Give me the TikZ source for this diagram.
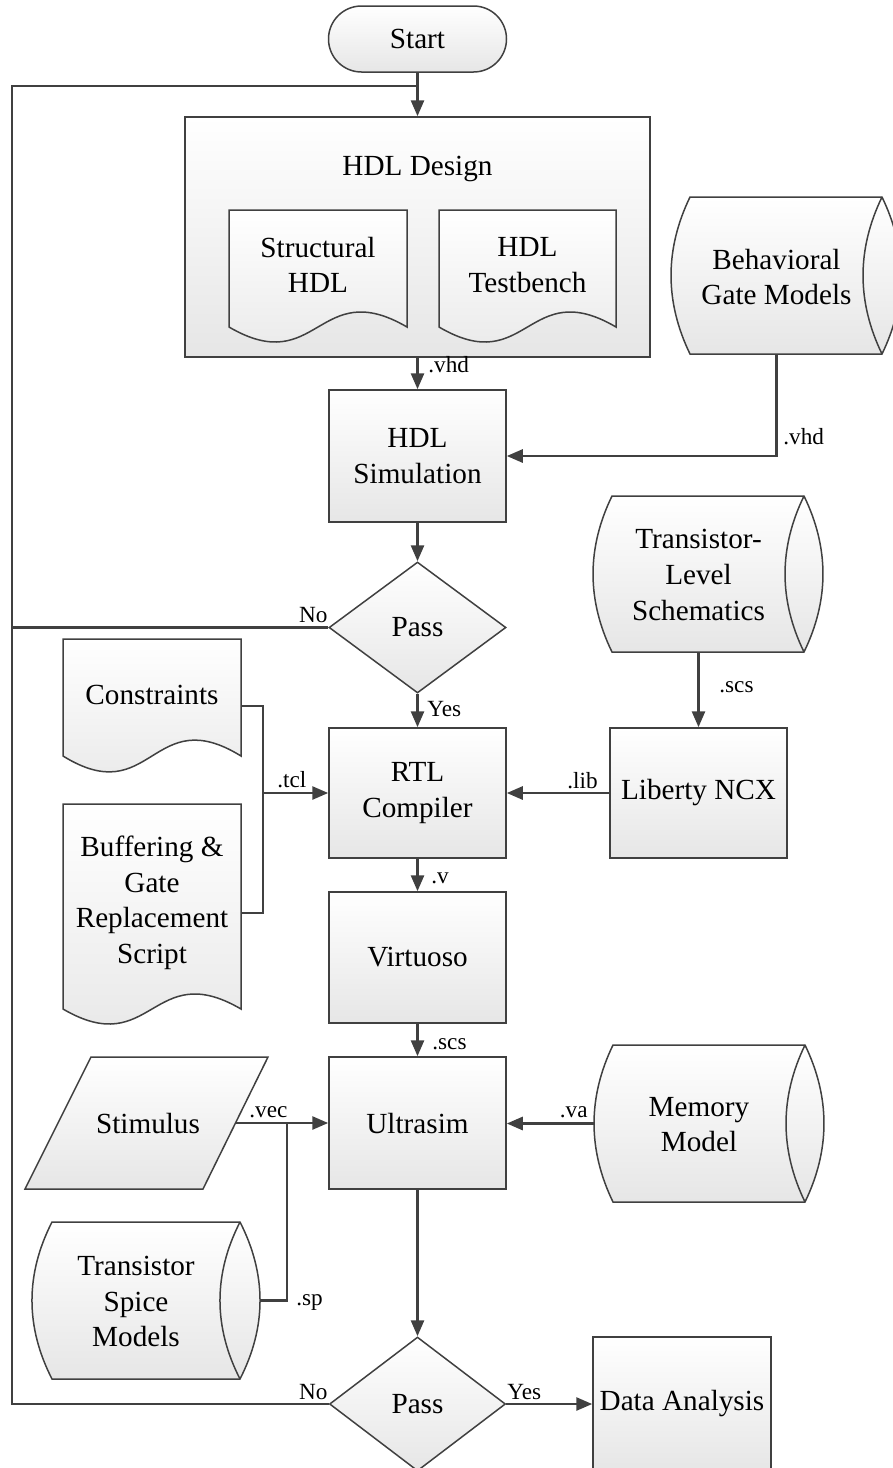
\documentclass[tikz,border=0pt]{standalone}
\usepackage{fontspec}
\setmainfont{Liberation Serif}
\usetikzlibrary{shapes.geometric,arrows.meta,calc}
\definecolor{ln}{HTML}{404040}
\definecolor{shd}{HTML}{E6E6E6}
\newcommand\fmain{\fontsize{14.6}{17.8}\selectfont}
\newcommand\flab{\fontsize{11.6}{13}\selectfont}
\begin{document}
\begin{tikzpicture}[x=0.5pt,y=-0.5pt,
  shp/.style={draw=ln, line width=0.75pt, top color=white, bottom color=shd},
  boxn/.style={shp, rectangle, inner sep=0pt, align=center, font=\fmain},
  dia/.style={shp, diamond, inner sep=0pt, font=\fmain, minimum width=88.5pt, minimum height=65.5pt},
  txt/.style={align=center, font=\fmain, inner sep=0pt},
  lab/.style={font=\flab, inner sep=0pt},
  conn/.style={draw=ln, line width=1.35pt},
  arr/.style={conn, -{Triangle[length=8pt,width=6.5pt]}},
  thin/.style={draw=ln, line width=0.75pt}
]
\useasboundingbox (0,0) rectangle (893,1468);

% ---- main column boxes
\node[boxn, rounded corners=16.5pt, minimum width=89pt, minimum height=33pt] (start) at (417.5,39) {Start};
\node[boxn, minimum width=232.5pt, minimum height=120pt] (hdl) at (417.5,237) {};
\node[txt] (hdltitle) at (417.5,169) {HDL Design};
\node[boxn, minimum width=88.5pt, minimum height=66pt] (sim) at (417.5,456) {HDL\\Simulation};
\node[dia] (pass1) at (417.5,627.5) {Pass};
\node[boxn, minimum width=88.5pt, minimum height=65pt] (rtl) at (417.5,793) {RTL\\Compiler};
\node[boxn, minimum width=88.5pt, minimum height=65pt] (liberty) at (698.5,793) {Liberty NCX};
\node[boxn, minimum width=88.5pt, minimum height=65.5pt] (virt) at (417.5,957.5) {Virtuoso};
\node[boxn, minimum width=88.5pt, minimum height=66pt] (ultra) at (417.5,1123) {Ultrasim};
\node[dia, minimum width=88pt, minimum height=67pt] (pass2) at (417.5,1404) {Pass};
\node[boxn, minimum width=89pt, minimum height=67pt] (data) at (682,1404) {Data Analysis};

% ---- documents inside HDL Design
\draw[shp] (229,210) -- (407,210) -- (407,327) .. controls (318,275) and (318,379) .. (229,327) -- cycle;
\node[txt] (struct) at (318,265) {Structural\\HDL};
\draw[shp] (439,210) -- (616,210) -- (616,327) .. controls (527.5,275) and (527.5,379) .. (439,327) -- cycle;
\node[txt] (tb) at (527.5,265) {HDL\\Testbench};

% ---- documents left
\draw[shp] (63,639) -- (241,639) -- (241,756) .. controls (152,701) and (152,811) .. (63,756) -- cycle;
\node[txt] (cons) at (152,695) {Constraints};
\draw[shp] (63,804) -- (241,804) -- (241,1009) .. controls (152,957) and (152,1061) .. (63,1009) -- cycle;
\node[txt] (buf) at (152,903) {Buffering \&\\Gate\\Replacement\\Script};

% ---- cylinders (stored data shapes)
\draw[shp] (690,197) -- (882,197) .. controls (907.3,249.3) and (907.3,301.7) .. (882,354)
  -- (690,354) .. controls (664.7,301.7) and (664.7,249.3) .. (690,197) -- cycle;
\draw[thin] (882,197) .. controls (856.7,249.3) and (856.7,301.7) .. (882,354);
\node[txt] (behav) at (776.5,277) {Behavioral\\Gate Models};

\draw[shp] (612,496) -- (804,496) .. controls (829.3,548) and (829.3,600) .. (804,652)
  -- (612,652) .. controls (586.7,600) and (586.7,548) .. (612,496) -- cycle;
\draw[thin] (804,496) .. controls (778.7,548) and (778.7,600) .. (804,652);
\node[txt] (tls) at (698.5,575) {Transistor-\\Level\\Schematics};

\draw[shp] (52,1222) -- (240,1222) .. controls (266.7,1274.3) and (266.7,1326.7) .. (240,1379)
  -- (52,1379) .. controls (25.3,1326.7) and (25.3,1274.3) .. (52,1222) -- cycle;
\draw[thin] (240,1222) .. controls (213.3,1274.3) and (213.3,1326.7) .. (240,1379);
\node[txt] (spice) at (136,1301.5) {Transistor\\Spice\\Models};

\draw[shp] (613,1045) -- (805,1045) .. controls (830.3,1097.3) and (830.3,1149.7) .. (805,1202)
  -- (613,1202) .. controls (587.7,1149.7) and (587.7,1097.3) .. (613,1045) -- cycle;
\draw[thin] (805,1045) .. controls (779.7,1097.3) and (779.7,1149.7) .. (805,1202);
\node[txt] (mem) at (699,1124.5) {Memory\\Model};

% ---- parallelogram
\draw[shp] (91,1057) -- (268,1057) -- (203,1189) -- (25,1189) -- cycle;
\node[txt] (stim) at (148,1123) {Stimulus};

% ---- connection points
\coordinate (fbtop) at (12,86);
\coordinate (fbjoin) at (417.5,86);
\coordinate (behavS) at (776.5,354);
\coordinate (tlsS) at (698.5,652);
\coordinate (consE) at (241,706);
\coordinate (bufE) at (241,913);
\coordinate (tclJ) at (263,793);
\coordinate (stimE) at (235.5,1123);
\coordinate (vecJ) at (287,1123);
\coordinate (spiceE) at (260,1300.5);
\coordinate (memW) at (594,1123.5);

% ---- connectors
\draw[arr] (start.south) -- (hdl.north);
\draw[conn] (pass2.west) -| (fbtop) -- (fbjoin);
\draw[conn] (pass1.west) -- (pass1.west -| fbtop);
\draw[arr] (hdl.south) -- (sim.north);
\draw[arr] (behavS) |- (sim.east);
\draw[arr] (sim.south) -- (pass1.north);
\draw[arr] (pass1.south) -- (rtl.north);
\draw[arr] (tlsS) -- (tlsS |- liberty.north);
\draw[arr] (liberty.west) -- (rtl.east);
\draw[conn] (consE) -| (tclJ) |- (bufE);
\draw[arr] (tclJ) -- (rtl.west);
\draw[arr] (rtl.south) -- (virt.north);
\draw[arr] (virt.south) -- (ultra.north);
\draw[arr] (stimE) -- (ultra.west);
\draw[conn] (spiceE) -| (vecJ);
\draw[arr] (memW) -- (memW -| ultra.east);
\draw[arr] (ultra.south) -- (pass2.north);
\draw[arr] (pass2.east) -- (data.west);

% ---- labels
\node[lab, anchor=base west] (l1) at (428,372) {.vhd};
\node[lab, anchor=base west] (l2) at (783,444) {.vhd};
\node[lab, anchor=base east] (l3) at (328,622) {No};
\node[lab, anchor=base west] (l4) at (427,716) {Yes};
\node[lab, anchor=base west] (l5) at (719,692) {.scs};
\node[lab, anchor=base east] (l6) at (598,788) {.lib};
\node[lab, anchor=base west] (l7) at (277,787) {.tcl};
\node[lab, anchor=base west] (l8) at (431,883) {.v};
\node[lab, anchor=base west] (l9) at (432,1049) {.scs};
\node[lab, anchor=base west] (l10) at (249,1117) {.vec};
\node[lab, anchor=base west] (l11) at (296,1305) {.sp};
\node[lab, anchor=base east] (l12) at (588,1117) {.va};
\node[lab, anchor=base east] (l13) at (328,1399) {No};
\node[lab, anchor=base west] (l14) at (507,1399) {Yes};
\end{tikzpicture}
\end{document}
